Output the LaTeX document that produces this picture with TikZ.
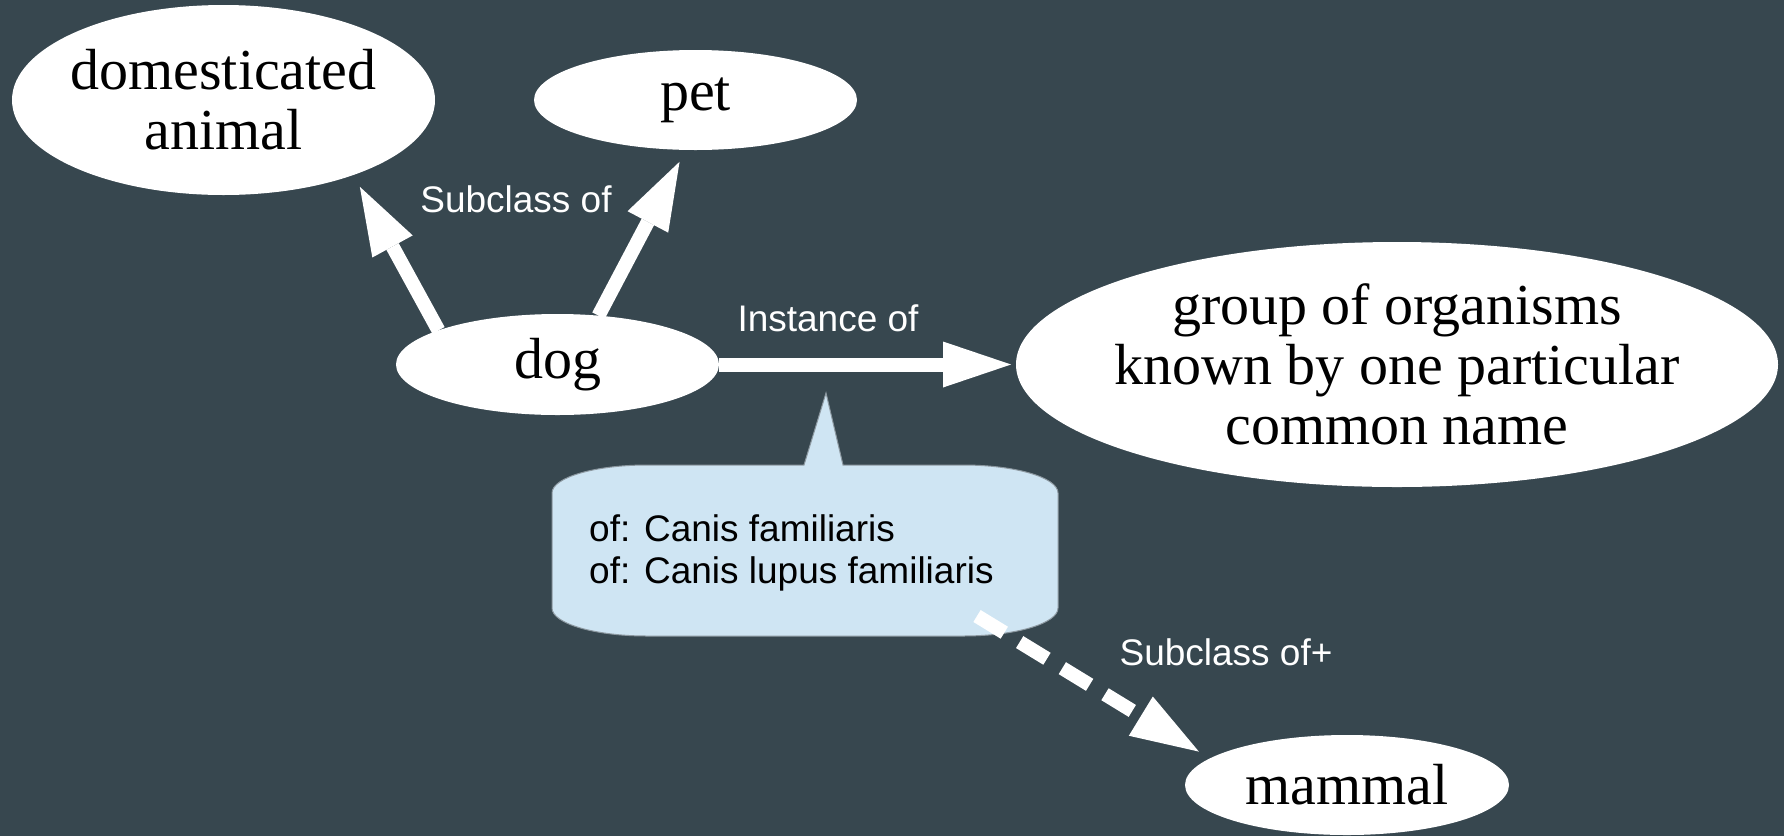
\documentclass[tikz,border=0pt]{standalone}
\usepackage{fontspec}
\setmainfont{Liberation Serif}
\newfontfamily\labelfont{Liberation Sans}
\usetikzlibrary{arrows.meta,shapes.geometric}
\definecolor{bg}{RGB}{55,71,79}
\definecolor{notefill}{RGB}{207,229,243}
\definecolor{noteedge}{RGB}{140,152,160}
\tikzset{
  concept/.style={ellipse, fill=white, inner xsep=-30pt, inner ysep=0pt, outer sep=0pt,
    align=center, text=black, font=\fontsize{58pt}{60pt}\selectfont},
  rel/.style={draw=white, line width=14pt,
    -{Triangle[length=68pt 0, width=46pt 0, line width=0pt 0 0]}},
  edgelabel/.style={text=white, inner sep=0pt, anchor=base,
    font=\labelfont\fontsize{37pt}{42pt}\selectfont},
}
\begin{document}
\begin{tikzpicture}[x=1pt, y=1pt]
  % canvas
  \fill[bg] (0,0) rectangle (1784,-836);
  \useasboundingbox (0,0) rectangle (1784,-836);

  % concepts
  \node[concept, minimum width=423pt, minimum height=190pt] (dom) at (223.5,-100) {domesticated\\animal};
  \node[concept, minimum width=323pt, minimum height=100pt] (pet) at (695.5,-100) {pet};
  \node[concept, minimum width=323pt, minimum height=101pt] (dog) at (557.5,-364.5) {dog};
  \node[concept, minimum width=762pt, minimum height=245pt] (group) at (1397,-364.5)
    {group of organisms\\known by one particular\\common name};
  \node[concept, minimum width=324pt, minimum height=100pt] (mammal) at (1347,-785) {mammal};

  % speech-bubble note with its pointer
  \path[draw=noteedge, line width=1pt, fill=notefill]
    (552,-493) arc[start angle=180, end angle=90, x radius=95, y radius=28]
    -- (804,-465) -- (826,-393) -- (843,-465) -- (963,-465)
    arc[start angle=90, end angle=0, x radius=95, y radius=28]
    -- (1058,-608)
    arc[start angle=0, end angle=-90, x radius=95, y radius=28]
    -- (647,-636)
    arc[start angle=270, end angle=180, x radius=95, y radius=28]
    -- cycle;
  \node[anchor=north west, inner sep=0pt, align=left, text=black,
    font=\labelfont\fontsize{37pt}{42pt}\selectfont] (note) at (589,-514)
    {of: Canis familiaris\\of: Canis lupus familiaris};

  % relations
  \draw[rel, shorten >=13.5pt] (dog.164.3) -- (dom.-30.9);
  \draw[rel, shorten >=13.4pt] (dog.50.5) -- (pet.259);
  \draw[rel, shorten >=5pt] (dog.east) -- (group.west);
  \coordinate (noteout) at (977,-616);
  \draw[rel, dash pattern=on 32pt off 18pt, shorten >=13pt] (noteout) -- (mammal.169.25);

  % relation labels
  \node[edgelabel] (lsub) at (516,-212) {Subclass of};
  \node[edgelabel] (linst) at (828,-331) {Instance of};
  \node[edgelabel] (lsubp) at (1226,-665) {Subclass of+};
\end{tikzpicture}
\end{document}
